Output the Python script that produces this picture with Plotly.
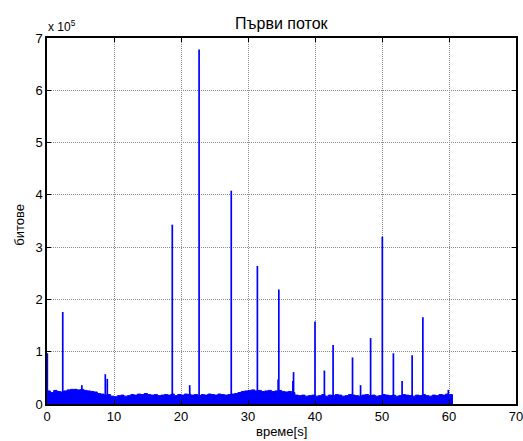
import plotly.graph_objects as go

# Traffic of the first stream: bits per sample over time
BAND_STEP = 0.5  # seconds between band samples
band_levels = [  # upper edge of the dense background traffic, bits
    25000, 22000, 26000, 24000, 23000, 25000, 27000, 28000, 28000, 27000,
    28000, 26000, 25000, 24000, 23000, 20000, 19000, 17000, 18000, 15000,
    14000, 16000, 17000, 15000, 16000, 18000, 17000, 19000, 18000, 20000,
    18000, 17000, 18000, 16000, 17000, 18000, 17000, 19000, 16000, 18000,
    17000, 19000, 18000, 17000, 18000, 16000, 18000, 17000, 19000, 18000,
    17000, 19000, 18000, 17000, 18000, 19000, 20000, 22000, 24000, 25000,
    26000, 27000, 25000, 26000, 24000, 25000, 26000, 24000, 25000, 26000,
    24000, 23000, 24000, 22000, 17000, 16000, 17000, 15000, 16000, 17000,
    15000, 16000, 18000, 15000, 17000, 16000, 18000, 17000, 15000, 16000,
    18000, 17000, 16000, 15000, 17000, 18000, 16000, 17000, 15000, 16000,
    18000, 17000, 16000, 17000, 15000, 16000, 18000, 17000, 16000, 15000,
    17000, 16000, 18000, 16000, 15000, 17000, 16000, 18000, 17000, 19000,
    18000, 17000,
]

spike_times = [0.05, 2.35, 5.2, 8.7, 9.0, 18.7, 21.3, 22.7, 27.5, 31.4,
               34.5, 34.6, 36.7, 36.8, 40.0, 41.4, 42.7, 45.6, 46.8, 48.3,
               50.05, 51.7, 53.0, 54.5, 56.1, 59.9]
spike_bits = [97000, 176000, 36000, 57000, 48000, 343000, 36000, 678000, 408000, 264000,
              47000, 219000, 44000, 61000, 158000, 64000, 113000, 89000, 36000, 126000,
              320000, 97000, 44000, 93000, 166000, 27000]

x_ticks = [0, 10, 20, 30, 40, 50, 60, 70]
y_tick_vals = [0, 100000, 200000, 300000, 400000, 500000, 600000, 700000]
y_tick_text = ["0", "1", "2", "3", "4", "5", "6", "7"]

band_t = [i * BAND_STEP for i in range(len(band_levels))]
band_t_full = band_t + [band_t[-1] + 0.1]
band_y_full = band_levels + [band_levels[-1]]

spike_x, spike_y = [], []
for t, b in zip(spike_times, spike_bits):
    spike_x += [t, t, None]
    spike_y += [0, b, None]

BLUE = "#0000ff"
FONT = "Liberation Sans, Arial, sans-serif"

fig = go.Figure()
fig.add_trace(go.Scatter(
    x=band_t_full, y=band_y_full, mode="lines", line_shape="hv",
    line=dict(color=BLUE, width=1), fill="tozeroy", fillcolor=BLUE,
    hoverinfo="skip", showlegend=False,
))
fig.add_trace(go.Scatter(
    x=spike_x, y=spike_y, mode="lines",
    line=dict(color=BLUE, width=1.7), showlegend=False,
))

axis_common = dict(
    showline=True, linecolor="black", linewidth=1.5, mirror="ticks",
    ticks="inside", ticklen=4, tickcolor="black", tickwidth=1,
    showgrid=True, gridcolor="#8a8a8a", griddash="1px,1px", gridwidth=1,
    zeroline=False, automargin=False, ticklabeloverflow="allow",
    tickfont=dict(family=FONT, size=13, color="black"),
)

fig.update_xaxes(range=[0, 70], tickvals=x_ticks, **axis_common)
fig.update_yaxes(range=[0, 700000], tickvals=y_tick_vals, ticktext=y_tick_text, **axis_common)

fig.update_layout(
    width=523, height=441,
    margin=dict(l=47, r=7, t=38, b=37),
    paper_bgcolor="white", plot_bgcolor="white",
    font=dict(family=FONT, color="black"),
    annotations=[
        dict(text="Първи поток", xref="paper", yref="paper", x=0.5, y=1.0396,
             xanchor="center", yanchor="middle", showarrow=False,
             font=dict(size=16)),
        dict(text="време[s]", xref="paper", yref="paper", x=0.5, y=-0.0765,
             xanchor="center", yanchor="middle", showarrow=False,
             font=dict(size=13)),
        dict(text="битове", xref="paper", yref="paper", x=-0.0576, y=0.49,
             xanchor="center", yanchor="middle", textangle=-90, showarrow=False,
             font=dict(size=13)),
        dict(text="x 10<sup>5</sup>", xref="paper", yref="paper", x=-0.002, y=1.005,
             xanchor="left", yanchor="bottom", showarrow=False,
             font=dict(size=12)),
    ],
)

fig.write_html("out.html")
